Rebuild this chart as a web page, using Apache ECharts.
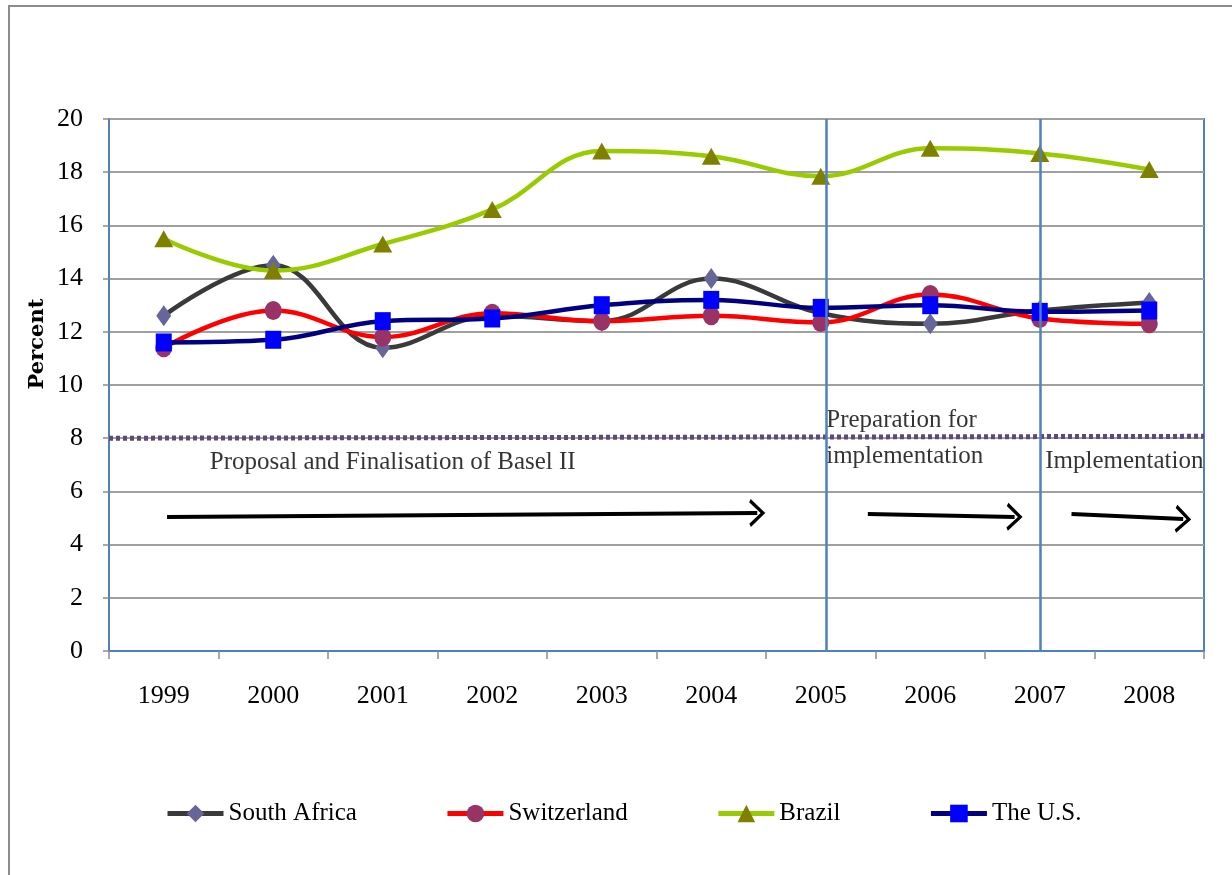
<!DOCTYPE html>
<html><head><meta charset="utf-8">
<script src="https://cdn.jsdelivr.net/npm/echarts@6/dist/echarts.min.js"></script>
<style>html,body{margin:0;padding:0;background:#fff}#c{width:1232px;height:875px}</style>
</head><body><div id="c"></div>
<script>
const years = ['1999','2000','2001','2002','2003','2004','2005','2006','2007','2008'];
const southAfrica = [12.6, 14.5, 11.4, 12.6, 12.4, 14.0, 12.7, 12.3, 12.8, 13.1];
const switzerland = [11.4, 12.8, 11.8, 12.7, 12.4, 12.6, 12.35, 13.4, 12.5, 12.3];
const brazil      = [15.5, 14.3, 15.3, 16.6, 18.8, 18.6, 17.85, 18.9, 18.7, 18.1];
const theUS       = [11.6, 11.7, 12.4, 12.5, 13.0, 13.2, 12.9, 13.0, 12.75, 12.8];
const yTicks = [0, 20, 2]; // min, max, interval
const minimumRatio = 8;
// annotation positions in data coordinates (x = category index on hidden value axis)
const phaseBoundaries = [6.05, 8.0];
const arrows = [[[0.03, 5.04], [5.42, 5.19]], [[6.43, 5.15], [7.77, 5.04]], [[8.29, 5.15], [9.31, 4.96]]];
const phaseLabels = [
  [0.42, 7.1, 'Proposal and Finalisation of Basel II'],
  [6.05, 8.65, 'Preparation for'],
  [6.05, 7.33, 'implementation'],
  [8.05, 7.14, 'Implementation']
];

const FONT = 'Liberation Serif';
const chevron = 'path://M0,14 L13,0 L26,14 L23,15.5 L13,4.5 L3,15.5 Z';

const chart = echarts.init(document.getElementById('c'), null, {renderer: 'canvas'});
const mk = (name, data, lineColor, symbol, symColor, size) => ({
  name, type: 'line', data, smooth: 0.4, symbol, symbolSize: size,
  lineStyle: {color: lineColor, width: 4.5},
  itemStyle: {color: symColor},
  emphasis: {disabled: true}, z: 3
});

chart.setOption({
  animation: false,
  backgroundColor: '#fff',
  textStyle: {fontFamily: FONT},
  graphic: [
    {type: 'rect', shape: {x: 9, y: 6, width: 1232, height: 880}, style: {fill: 'none', stroke: '#8c8c8c', lineWidth: 2}, z: -1},
    {type: 'text', x: 38, y: 344, rotation: Math.PI / 2, style: {text: 'Percent', font: 'bold 21px "DejaVu Serif"', fill: '#000', textAlign: 'center', textVerticalAlign: 'middle'}}
  ],
  grid: {left: 109, right: 28, top: 119, bottom: 224, show: true, borderColor: '#4f81bd', borderWidth: 2, backgroundColor: 'transparent'},
  legend: {
    bottom: 44, left: 160, itemGap: 88, itemWidth: 56, itemHeight: 22,
    lineStyle: {width: 5},
    textStyle: {fontFamily: FONT, fontSize: 25, color: '#000'},
    data: ['South Africa', 'Switzerland', 'Brazil', 'The U.S.']
  },
  xAxis: [
    {type: 'category', data: years, boundaryGap: true,
     axisLine: {onZero: false, lineStyle: {color: '#4f81bd', width: 2}},
     axisTick: {show: true, length: 8, lineStyle: {color: '#8c8c8c', width: 1.5}},
     axisLabel: {fontFamily: FONT, fontSize: 26, color: '#000', margin: 32},
     splitLine: {show: false}},
    {type: 'value', min: -0.5, max: 9.5, show: false}
  ],
  yAxis: {
    type: 'value', min: yTicks[0], max: yTicks[1], interval: yTicks[2],
    axisLine: {show: true, onZero: false, lineStyle: {color: '#4f81bd', width: 2}},
    axisTick: {show: true, length: 6, lineStyle: {color: '#8c8c8c', width: 1.5}},
    axisLabel: {fontFamily: FONT, fontSize: 26, color: '#000', margin: 26},
    splitLine: {lineStyle: {color: '#a0a0a0', width: 2}}
  },
  series: [
    {
      type: 'line', xAxisIndex: 1, data: [], silent: true, z: 2,
      markLine: {
        silent: true, animation: false, symbol: ['none', 'none'],
        label: {show: false}, emphasis: {disabled: true},
        lineStyle: {color: '#5f497a', width: 5, type: [4, 3], opacity: 1},
        data: [
          [{coord: [-0.5, minimumRatio]}, {coord: [9.5, minimumRatio + 0.07]}]
        ]
      }
    },
    {
      type: 'line', xAxisIndex: 1, data: [], silent: true, z: 2,
      markLine: {
        silent: true, animation: false, symbol: ['none', 'none'],
        label: {show: false}, emphasis: {disabled: true},
        lineStyle: {color: '#4f81bd', width: 2.5, type: 'solid', opacity: 1},
        data: phaseBoundaries.map(x => ({xAxis: x}))
      }
    },
    {
      type: 'line', xAxisIndex: 1, data: [], silent: true, z: 2,
      markLine: {
        silent: true, animation: false, symbol: ['none', chevron], symbolSize: [28, 16],
        label: {show: false}, emphasis: {disabled: true},
        lineStyle: {color: '#000', width: 4, type: 'solid', opacity: 1},
        itemStyle: {color: '#000'},
        data: arrows.map(a => [{coord: a[0]}, {coord: a[1]}])
      }
    },
    {
      type: 'scatter', xAxisIndex: 1, silent: true, symbolSize: 0, z: 4,
      data: phaseLabels.map(p => [p[0], p[1], p[2]]),
      label: {show: true, position: 'right', distance: 0, formatter: p => p.value[2],
              fontFamily: FONT, fontSize: 25, color: '#000'}
    },
    mk('South Africa', southAfrica, '#3a3a3a', 'diamond', '#666699', [15, 21]),
    mk('Switzerland', switzerland, '#ff0000', 'circle', '#993366', [17, 19]),
    mk('Brazil', brazil, '#99cc00', 'triangle', '#808000', [19, 17]),
    mk('The U.S.', theUS, '#000080', 'rect', '#0000ff', [16, 18])
  ]
});
</script></body></html>
